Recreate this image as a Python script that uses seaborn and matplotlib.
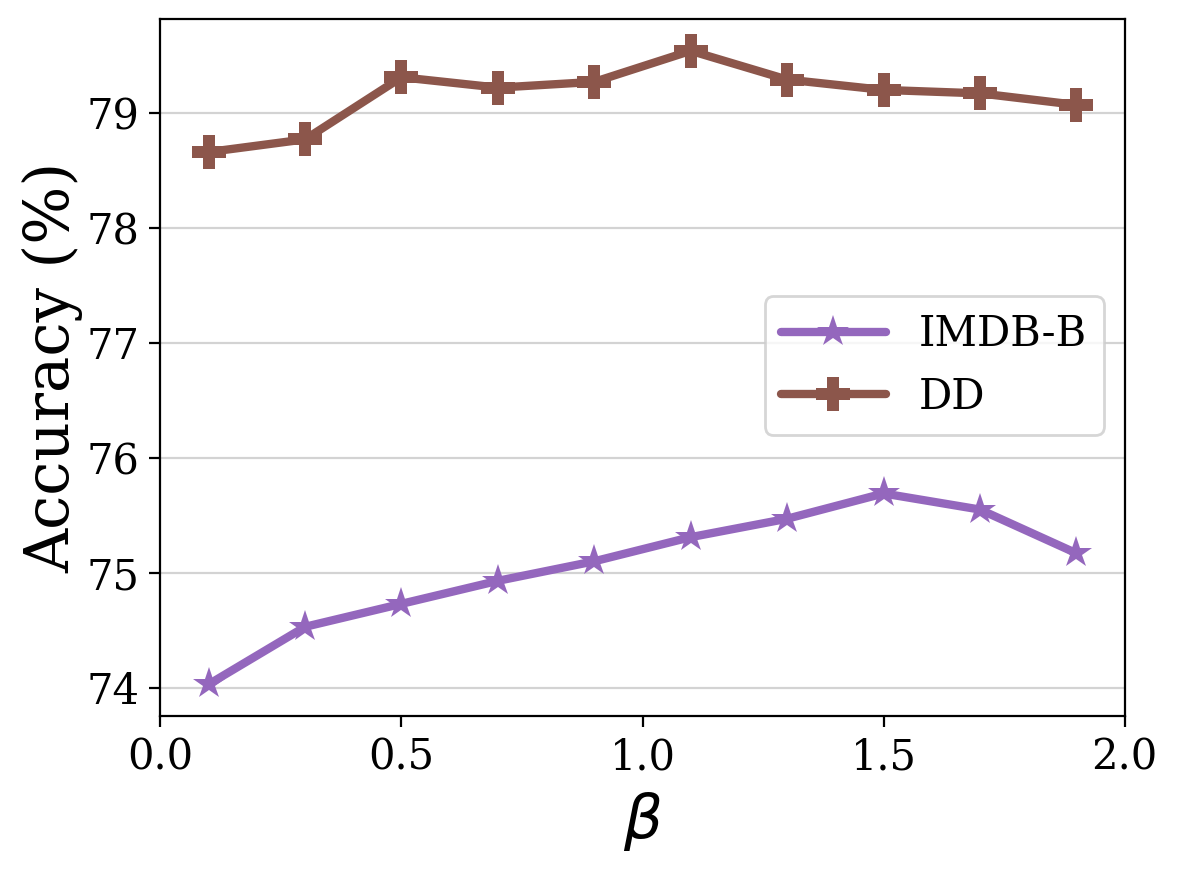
import seaborn as sns
import matplotlib.pyplot as plt
import pandas as pd

# Values
beta = [0.1, 0.3, 0.5, 0.7, 0.9, 1.1, 1.3, 1.5, 1.7, 1.9]
imdb_b = [74.03, 74.53, 74.73, 74.93, 75.10, 75.31, 75.47, 75.69, 75.55, 75.17]
dd = [78.66, 78.77, 79.31, 79.22, 79.27, 79.54, 79.29, 79.20, 79.17, 79.07]

df = pd.DataFrame({
    "beta": beta * 2,
    "acc": imdb_b + dd,
    "dataset": ["IMDB-B"] * len(beta) + ["DD"] * len(beta),
})

sns.set_style("white")
plt.rcParams["font.family"] = "DejaVu Serif"
plt.rcParams["mathtext.fontset"] = "dejavusans"
plt.rcParams["text.color"] = "black"
plt.rcParams["axes.labelcolor"] = "black"
plt.rcParams["xtick.color"] = "black"
plt.rcParams["ytick.color"] = "black"

fig, ax = plt.subplots(figsize=(5.9, 4.355), dpi=200)
sns.lineplot(data=df, x="beta", y="acc", hue="dataset", style="dataset",
             palette={"IMDB-B": "#9467bd", "DD": "#8c564b"},
             markers={"IMDB-B": "*", "DD": "P"}, dashes=False,
             linewidth=3, markersize=12, markeredgewidth=0, ax=ax)

ax.set_xlim(0, 2)
ax.set_xticks([0.0, 0.5, 1.0, 1.5, 2.0])
ax.yaxis.grid(True, color="#d3d3d3", linewidth=0.8)
ax.set_axisbelow(True)
ax.tick_params(axis="both", labelsize=15, length=4, width=0.8, left=True, bottom=True)
ax.set_xlabel(r"$\beta$", fontsize=22)
ax.set_ylabel("Accuracy (%)", fontsize=22, labelpad=1)
for s in ax.spines.values():
    s.set_color("black")
    s.set_linewidth(0.8)

ax.legend(title=None, fontsize=15, loc="upper right",
          bbox_to_anchor=(1.0, 0.632), handlelength=2.5)

fig.subplots_adjust(left=0.136, right=0.953, top=0.978, bottom=0.178)
fig.savefig("out.png", dpi=200)
